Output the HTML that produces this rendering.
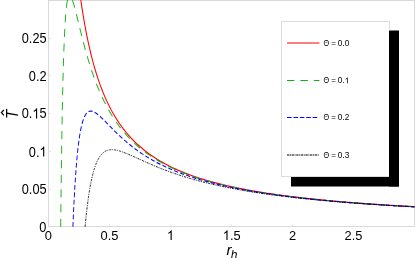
<!DOCTYPE html>
<html><head><meta charset="utf-8"><style>
html,body{margin:0;padding:0;background:#fff;}
body{width:415px;height:258px;overflow:hidden;position:relative;font-family:"Liberation Sans",sans-serif;}
svg{position:absolute;left:0;top:0;will-change:transform;}
text{font-family:"Liberation Sans",sans-serif;fill:#000;}
</style></head><body>
<svg width="415" height="258" viewBox="0 0 415 258">
<defs><clipPath id="c"><rect x="48" y="0" width="367" height="227.4"/></clipPath></defs>
<rect x="0" y="0" width="415" height="258" fill="#fff"/>
<!-- axes frame -->
<g stroke="#d9d9d9" stroke-width="1" fill="none" shape-rendering="crispEdges">
<line x1="48.5" y1="0" x2="48.5" y2="227"/>
<line x1="48" y1="226.5" x2="415" y2="226.5"/>
<line x1="48" y1="0.5" x2="415" y2="0.5"/>
<line x1="414.5" y1="0" x2="414.5" y2="227"/>
</g>
<g stroke="#e4e4e4" stroke-width="1" fill="none" shape-rendering="crispEdges">
<line x1="109.5" y1="224" x2="109.5" y2="226" stroke="#ececec"/>
<line x1="170.5" y1="224" x2="170.5" y2="226" stroke="#ececec"/>
<line x1="231.5" y1="224" x2="231.5" y2="226" stroke="#ececec"/>
<line x1="292.5" y1="224" x2="292.5" y2="226" stroke="#ececec"/>
<line x1="353.5" y1="224" x2="353.5" y2="226" stroke="#ececec"/>
<line x1="49" y1="189.5" x2="51" y2="189.5"/>
<line x1="49" y1="151.5" x2="51" y2="151.5"/>
<line x1="49" y1="113.5" x2="51" y2="113.5"/>
<line x1="49" y1="75.5" x2="51" y2="75.5"/>
<line x1="49" y1="38.5" x2="51" y2="38.5"/>
</g>
<g clip-path="url(#c)" fill="none" stroke-linejoin="round">
<g transform="scale(1,1.175)"><path d="M77.06,-25.46 L77.18,-24.53 L77.30,-23.60 L77.43,-22.69 L77.55,-21.78 L77.67,-20.88 L77.79,-19.99 L77.91,-19.10 L78.04,-18.22 L78.16,-17.35 L78.28,-16.49 L78.40,-15.63 L78.53,-14.78 L78.65,-13.94 L78.77,-13.10 L78.89,-12.27 L79.02,-11.45 L79.14,-10.63 L79.26,-9.82 L79.38,-9.02 L79.50,-8.22 L79.63,-7.43 L79.75,-6.65 L79.87,-5.87 L79.99,-5.10 L80.12,-4.33 L80.24,-3.57 L80.36,-2.82 L80.48,-2.07 L80.61,-1.33 L80.73,-0.59 L80.85,0.14 L80.97,0.87 L81.09,1.59 L81.22,2.31 L81.34,3.02 L81.46,3.72 L81.58,4.42 L81.71,5.12 L81.83,5.80 L81.95,6.49 L82.07,7.17 L82.20,7.84 L82.32,8.51 L82.44,9.18 L82.56,9.84 L82.68,10.49 L82.81,11.14 L82.93,11.79 L83.05,12.43 L83.17,13.07 L83.30,13.70 L83.42,14.33 L83.54,14.95 L83.66,15.57 L83.79,16.19 L83.91,16.80 L84.03,17.40 L84.15,18.00 L84.27,18.60 L84.40,19.20 L84.52,19.79 L84.64,20.37 L84.76,20.96 L84.89,21.53 L85.01,22.11 L85.13,22.68 L85.25,23.25 L85.38,23.81 L85.50,24.37 L85.62,24.92 L85.74,25.47 L85.86,26.02 L85.99,26.57 L86.11,27.11 L86.23,27.65 L86.35,28.18 L86.48,28.71 L86.60,29.24 L86.72,29.76 L86.84,30.28 L86.97,30.80 L87.09,31.31 L87.21,31.83 L87.33,32.33 L87.45,32.84 L87.58,33.34 L87.70,33.84 L87.82,34.33 L87.94,34.82 L88.07,35.31 L88.19,35.80 L88.31,36.28 L88.43,36.76 L88.56,37.24 L88.68,37.71 L88.80,38.18 L88.92,38.65 L89.04,39.12 L89.17,39.58 L89.29,40.04 L89.41,40.50 L89.53,40.95 L89.66,41.40 L89.78,41.85 L89.90,42.30 L90.02,42.74 L90.15,43.18 L90.27,43.62 L90.39,44.06 L90.51,44.49 L90.63,44.92 L90.76,45.35 L90.88,45.78 L91.00,46.20 L91.12,46.62 L91.25,47.04 L91.37,47.46 L91.49,47.87 L91.61,48.28 L91.74,48.69 L91.86,49.10 L91.98,49.50 L92.10,49.91 L92.22,50.31 L92.35,50.71 L92.47,51.10 L92.59,51.49 L92.71,51.89 L92.84,52.28 L92.96,52.66 L93.08,53.05 L93.20,53.43 L93.33,53.81 L93.45,54.19 L93.57,54.57 L93.69,54.94 L93.81,55.31 L93.94,55.68 L94.06,56.05 L94.18,56.42 L94.30,56.78 L94.43,57.15 L94.55,57.51 L94.67,57.87 L94.79,58.22 L94.92,58.58 L95.04,58.93 L95.16,59.28 L95.28,59.63 L95.40,59.98 L95.53,60.33 L95.65,60.67 L95.77,61.01 L95.89,61.35 L96.02,61.69 L96.14,62.03 L96.26,62.36 L96.38,62.70 L96.51,63.03 L96.63,63.36 L96.75,63.69 L96.87,64.02 L96.99,64.34 L97.12,64.66 L97.24,64.99 L97.36,65.31 L97.48,65.63 L97.61,65.94 L97.73,66.26 L97.85,66.57 L97.97,66.88 L98.09,67.20 L98.22,67.51 L98.34,67.81 L98.46,68.12 L98.58,68.42 L98.71,68.73 L98.83,69.03 L98.95,69.33 L99.07,69.63 L99.20,69.93 L99.32,70.22 L99.44,70.52 L99.56,70.81 L99.68,71.10 L99.81,71.39 L99.93,71.68 L100.05,71.97 L100.17,72.26 L100.30,72.54 L100.42,72.83 L100.54,73.11 L100.66,73.39 L100.79,73.67 L100.91,73.95 L101.03,74.22 L101.15,74.50 L101.27,74.77 L101.40,75.05 L101.52,75.32 L101.64,75.59 L101.76,75.86 L101.89,76.13 L102.01,76.40 L102.13,76.66 L102.25,76.93 L102.38,77.19 L102.50,77.45 L102.62,77.71 L102.74,77.97 L102.86,78.23 L102.99,78.49 L103.11,78.75 L103.23,79.00 L103.35,79.26 L103.48,79.51 L103.60,79.76 L103.72,80.01 L103.84,80.26 L103.97,80.51 L104.09,80.76 L104.21,81.00 L104.33,81.25 L104.45,81.49 L104.58,81.74 L104.70,81.98 L104.82,82.22 L104.94,82.46 L105.07,82.70 L105.19,82.94 L105.31,83.17 L105.43,83.41 L105.56,83.64 L105.68,83.88 L105.80,84.11 L105.92,84.34 L106.04,84.57 L106.17,84.80 L106.29,85.03 L106.41,85.26 L106.53,85.49 L106.66,85.71 L106.78,85.94 L106.90,86.16 L107.02,86.39 L107.15,86.61 L107.27,86.83 L107.39,87.05 L107.51,87.27 L107.63,87.49 L107.76,87.71 L107.88,87.92 L108.00,88.14 L108.12,88.35 L108.25,88.57 L108.37,88.78 L108.49,88.99 L108.61,89.20 L108.74,89.42 L108.86,89.63 L108.98,89.83 L109.10,90.04 L109.22,90.25 L109.35,90.46 L109.47,90.66 L109.59,90.87 L109.71,91.07 L109.84,91.27 L109.96,91.48 L110.08,91.68 L110.20,91.88 L110.33,92.08 L110.45,92.28 L110.57,92.48 L110.69,92.67 L110.81,92.87 L110.94,93.07 L111.06,93.26 L111.18,93.46 L111.30,93.65 L111.43,93.84 L111.55,94.04 L111.67,94.23 L111.79,94.42 L111.92,94.61 L112.04,94.80 L112.16,94.99 L112.28,95.17 L112.40,95.36 L112.53,95.55 L112.65,95.73 L112.77,95.92 L112.89,96.10 L113.02,96.29 L113.14,96.47 L113.26,96.65 L113.38,96.83 L113.51,97.01 L113.63,97.19 L113.75,97.37 L113.87,97.55 L113.99,97.73 L114.12,97.91 L114.24,98.09 L114.36,98.26 L114.48,98.44 L114.61,98.61 L114.73,98.79 L114.85,98.96 L114.97,99.13 L115.10,99.31 L115.22,99.48 L115.34,99.65 L115.46,99.82 L115.58,99.99 L115.71,100.16 L115.83,100.33 L115.95,100.49 L116.07,100.66 L116.20,100.83 L116.32,101.00 L116.44,101.16 L116.56,101.33 L116.69,101.49 L116.81,101.65 L116.93,101.82 L117.05,101.98 L117.17,102.14 L117.30,102.30 L117.42,102.46 L117.54,102.62 L117.66,102.78 L117.79,102.94 L117.91,103.10 L118.03,103.26 L118.15,103.42 L118.28,103.57 L118.40,103.73 L118.52,103.89 L118.64,104.04 L118.76,104.20 L118.89,104.35 L119.01,104.51 L119.13,104.66 L119.25,104.81 L119.38,104.96 L119.50,105.11 L119.62,105.27 L119.74,105.42 L119.87,105.57 L119.99,105.72 L120.11,105.87 L120.23,106.01 L120.35,106.16 L120.48,106.31 L120.60,106.46 L120.72,106.60 L120.84,106.75 L120.97,106.89 L121.09,107.04 L121.21,107.18 L121.33,107.33 L121.46,107.47 L121.58,107.61 L121.70,107.76 L123.17,109.44 L124.64,111.05 L126.11,112.60 L127.59,114.10 L129.06,115.54 L130.53,116.93 L132.00,118.27 L133.47,119.56 L134.94,120.81 L136.41,122.02 L137.88,123.19 L139.36,124.32 L140.83,125.41 L142.30,126.47 L143.77,127.50 L145.24,128.50 L146.71,129.46 L148.18,130.40 L149.66,131.31 L151.13,132.19 L152.60,133.05 L154.07,133.89 L155.54,134.70 L157.01,135.49 L158.48,136.26 L159.96,137.01 L161.43,137.74 L162.90,138.45 L164.37,139.14 L165.84,139.82 L167.31,140.47 L168.78,141.12 L170.25,141.74 L171.73,142.35 L173.20,142.95 L174.67,143.54 L176.14,144.11 L177.61,144.66 L179.08,145.21 L180.55,145.74 L182.03,146.26 L183.50,146.77 L184.97,147.27 L186.44,147.75 L187.91,148.23 L189.38,148.70 L190.85,149.16 L192.33,149.61 L193.80,150.04 L195.27,150.47 L196.74,150.90 L198.21,151.31 L199.68,151.72 L201.15,152.11 L202.62,152.50 L204.10,152.89 L205.57,153.26 L207.04,153.63 L208.51,153.99 L209.98,154.35 L211.45,154.70 L212.92,155.04 L214.40,155.38 L215.87,155.71 L217.34,156.03 L218.81,156.35 L220.28,156.66 L221.75,156.97 L223.22,157.28 L224.69,157.57 L226.17,157.87 L227.64,158.16 L229.11,158.44 L230.58,158.72 L232.05,158.99 L233.52,159.26 L234.99,159.53 L236.47,159.79 L237.94,160.05 L239.41,160.30 L240.88,160.55 L242.35,160.80 L243.82,161.04 L245.29,161.28 L246.77,161.51 L248.24,161.75 L249.71,161.98 L251.18,162.20 L252.65,162.42 L254.12,162.64 L255.59,162.86 L257.06,163.07 L258.54,163.28 L260.01,163.48 L261.48,163.69 L262.95,163.89 L264.42,164.09 L265.89,164.28 L267.36,164.48 L268.84,164.67 L270.31,164.85 L271.78,165.04 L273.25,165.22 L274.72,165.40 L276.19,165.58 L277.66,165.76 L279.14,165.93 L280.61,166.10 L282.08,166.27 L283.55,166.44 L285.02,166.60 L286.49,166.77 L287.96,166.93 L289.43,167.09 L290.91,167.24 L292.38,167.40 L293.85,167.55 L295.32,167.70 L296.79,167.85 L298.26,168.00 L299.73,168.15 L301.21,168.29 L302.68,168.44 L304.15,168.58 L305.62,168.72 L307.09,168.85 L308.56,168.99 L310.03,169.13 L311.51,169.26 L312.98,169.39 L314.45,169.52 L315.92,169.65 L317.39,169.78 L318.86,169.91 L320.33,170.03 L321.80,170.15 L323.28,170.28 L324.75,170.40 L326.22,170.52 L327.69,170.63 L329.16,170.75 L330.63,170.87 L332.10,170.98 L333.58,171.10 L335.05,171.21 L336.52,171.32 L337.99,171.43 L339.46,171.54 L340.93,171.65 L342.40,171.75 L343.87,171.86 L345.35,171.96 L346.82,172.07 L348.29,172.17 L349.76,172.27 L351.23,172.37 L352.70,172.47 L354.17,172.57 L355.65,172.67 L357.12,172.77 L358.59,172.86 L360.06,172.96 L361.53,173.05 L363.00,173.14 L364.47,173.24 L365.95,173.33 L367.42,173.42 L368.89,173.51 L370.36,173.60 L371.83,173.69 L373.30,173.77 L374.77,173.86 L376.24,173.95 L377.72,174.03 L379.19,174.11 L380.66,174.20 L382.13,174.28 L383.60,174.36 L385.07,174.44 L386.54,174.52 L388.02,174.60 L389.49,174.68 L390.96,174.76 L392.43,174.84 L393.90,174.92 L395.37,174.99 L396.84,175.07 L398.32,175.15 L399.79,175.22 L401.26,175.29 L402.73,175.37 L404.20,175.44 L405.67,175.51 L407.14,175.58 L408.61,175.66 L410.09,175.73 L411.56,175.80 L413.03,175.87 L414.50,175.93" stroke="#ff0000" stroke-width="1.05"/></g>
<g transform="scale(1,1.09)" stroke="#18b418" stroke-dasharray="7.35 6.05" stroke-width="0.98">
<path d="M60.70,208.03 L60.73,205.34 L60.76,202.69 L60.79,200.08 L60.82,197.49 L60.85,194.94 L60.88,192.41 L60.91,189.92 L60.94,187.46 L60.97,185.02 L61.00,182.62 L61.03,180.24 L61.06,177.90 L61.09,175.58 L61.12,173.29 L61.15,171.03 L61.18,168.79 L61.21,166.58 L61.24,164.40 L61.27,162.24 L61.30,160.11 L61.33,158.01 L61.36,155.93 L61.39,153.87 L61.42,151.84 L61.45,149.84 L61.48,147.86 L61.51,145.90 L61.54,143.96 L61.57,142.05 L61.60,140.16 L61.63,138.30 L61.66,136.45 L61.69,134.63 L61.72,132.83 L61.75,131.05 L61.78,129.29 L61.81,127.55 L61.84,125.83 L61.86,124.14 L61.89,122.46 L61.92,120.80 L61.95,119.17 L61.98,117.55 L62.01,115.95 L62.04,114.37 L62.07,112.81 L62.10,111.27 L62.13,109.74 L62.16,108.24 L62.19,106.75 L62.22,105.28 L62.25,103.82 L62.28,102.39 L62.31,100.97 L62.34,99.57 L62.37,98.18 L62.40,96.81 L62.43,95.46 L62.46,94.12 L62.49,92.80 L62.52,91.49 L62.55,90.20 L62.58,88.92 L62.61,87.66 L62.64,86.42 L62.67,85.19 L62.70,83.97 L62.73,82.77 L62.76,81.58 L62.79,80.41 L62.82,79.25 L62.85,78.10 L62.88,76.97 L62.91,75.85 L62.94,74.74 L62.97,73.65 L63.00,72.57 L63.03,71.50 L63.06,70.45 L63.09,69.41 L63.12,68.38 L63.15,67.36 L63.18,66.35 L63.21,65.36 L63.24,64.38 L63.27,63.41 L63.30,62.45 L63.33,61.50 L63.36,60.57 L63.39,59.64 L63.42,58.73 L63.45,57.83 L63.48,56.93 L63.51,56.05 L63.54,55.18 L63.57,54.32 L63.60,53.47 L63.63,52.63 L63.66,51.80 L63.69,50.98 L63.72,50.17 L63.75,49.37 L63.78,48.58 L63.81,47.80 L63.84,47.03 L63.87,46.26 L63.90,45.51 L63.93,44.76 L63.96,44.03 L63.99,43.30 L64.02,42.59 L64.05,41.88 L64.08,41.18 L64.11,40.48 L64.14,39.80 L64.16,39.13 L64.19,38.46 L64.22,37.80 L64.25,37.15 L64.28,36.51 L64.31,35.87 L64.34,35.25 L64.37,34.63 L64.40,34.01 L64.43,33.41 L64.46,32.81 L64.49,32.22 L64.52,31.64 L64.55,31.07 L64.58,30.50 L64.61,29.94 L64.64,29.39 L64.67,28.84 L64.70,28.30 L64.73,27.77 L64.76,27.24 L64.79,26.72 L64.82,26.21 L64.85,25.70 L64.88,25.20 L64.91,24.71 L64.94,24.22 L64.97,23.74 L65.00,23.26 L65.03,22.80 L65.06,22.33 L65.09,21.88 L65.12,21.42 L65.15,20.98 L65.18,20.54 L65.21,20.11 L65.24,19.68 L65.27,19.26 L65.30,18.84 L65.33,18.43 L65.36,18.02 L65.39,17.62 L65.42,17.22 L65.45,16.83 L65.48,16.45 L65.51,16.07 L65.54,15.69 L65.57,15.33 L65.60,14.96 L65.63,14.60 L65.66,14.25 L65.69,13.90 L65.72,13.55 L65.75,13.21 L65.78,12.87 L65.81,12.54 L65.84,12.22 L65.87,11.89 L65.90,11.58 L65.93,11.26 L65.96,10.95 L65.99,10.65 L66.02,10.35 L66.05,10.05 L66.08,9.76 L66.11,9.47 L66.14,9.19 L66.17,8.91 L66.20,8.64 L66.23,8.37 L66.26,8.10 L66.29,7.84 L66.32,7.58 L66.35,7.32 L66.38,7.07 L66.41,6.82 L66.43,6.58 L66.46,6.34 L66.49,6.10 L66.52,5.87 L66.55,5.64 L66.58,5.41 L66.61,5.19 L66.64,4.97 L66.67,4.75 L66.70,4.54 L66.73,4.33 L66.76,4.13 L66.79,3.92 L66.82,3.72 L66.85,3.53 L66.88,3.34 L66.91,3.15 L66.94,2.96 L66.97,2.78 L67.00,2.60 L67.03,2.42 L67.06,2.25 L67.09,2.07 L67.12,1.91 L67.15,1.74 L67.18,1.58 L67.21,1.42 L67.24,1.26 L67.27,1.11 L67.30,0.96 L67.33,0.81 L67.36,0.66 L67.39,0.52 L67.42,0.38 L67.45,0.24 L67.48,0.11 L67.51,-0.02 L67.54,-0.15 L67.57,-0.28 L67.60,-0.40 L67.63,-0.53 L67.66,-0.65 L67.69,-0.76 L67.72,-0.88 L67.75,-0.99 L67.78,-1.10 L67.81,-1.21 L67.84,-1.31 L67.87,-1.42 L67.90,-1.52 L67.93,-1.61 L67.96,-1.71 L67.99,-1.81 L68.02,-1.90 L68.05,-1.99 L68.08,-2.07 L68.11,-2.16 L68.14,-2.24 L68.17,-2.32 L68.20,-2.40 L68.23,-2.48 L68.26,-2.56 L68.29,-2.63 L68.32,-2.70 L68.35,-2.77 L68.38,-2.84 L68.41,-2.90 L68.44,-2.96 L68.47,-3.03 L68.50,-3.09 L68.53,-3.14 L68.56,-3.20 L68.59,-3.25 L68.62,-3.31 L68.65,-3.36 L68.68,-3.40 L68.71,-3.45 L68.73,-3.50 L68.76,-3.54 L68.79,-3.58 L68.82,-3.62 L68.85,-3.66 L68.88,-3.70 L68.91,-3.73 L68.94,-3.77 L68.97,-3.80 L69.00,-3.83 L69.03,-3.86 L69.06,-3.89 L69.09,-3.91 L69.12,-3.94 L69.15,-3.96 L69.18,-3.98 L69.21,-4.00 L69.24,-4.02 L69.27,-4.03 L69.30,-4.05 L69.33,-4.06 L69.36,-4.08 L69.39,-4.09 L69.42,-4.10 L69.45,-4.11 L69.48,-4.11 L69.51,-4.12 L69.54,-4.12 L69.57,-4.13 L69.60,-4.13 L69.63,-4.13"/>
<path d="M69.63,-4.13 L69.76,-4.12 L69.89,-4.08 L70.02,-4.03 L70.15,-3.95 L70.28,-3.85 L70.41,-3.73 L70.54,-3.59 L70.68,-3.44 L70.81,-3.26 L70.94,-3.07 L71.07,-2.87 L71.20,-2.65 L71.33,-2.42 L71.46,-2.17 L71.59,-1.91 L71.72,-1.63 L71.85,-1.35 L71.98,-1.05 L72.11,-0.74 L72.24,-0.42 L72.37,-0.10 L72.50,0.24 L72.63,0.59 L72.76,0.94 L72.89,1.31 L73.02,1.68 L73.15,2.06 L73.28,2.45 L73.42,2.84 L73.55,3.24 L73.68,3.65 L73.81,4.06 L73.94,4.48 L74.07,4.90 L74.20,5.33 L74.33,5.76 L74.46,6.20 L74.59,6.64 L74.72,7.08 L74.85,7.53 L74.98,7.99 L75.11,8.44 L75.24,8.90 L75.37,9.36 L75.50,9.83 L75.63,10.30 L75.76,10.77 L75.89,11.24 L76.03,11.71 L76.16,12.19 L76.29,12.67 L76.42,13.15 L76.55,13.63 L76.68,14.11 L76.81,14.60 L76.94,15.08 L77.07,15.57 L77.20,16.06 L77.33,16.55 L77.46,17.04 L77.59,17.52 L77.72,18.01 L77.85,18.51 L77.98,19.00 L78.11,19.49 L78.24,19.98 L78.37,20.47 L78.50,20.96 L78.64,21.45 L78.77,21.94 L78.90,22.43 L79.03,22.92 L79.16,23.42 L79.29,23.91 L79.42,24.39 L79.55,24.88 L79.68,25.37 L79.81,25.86 L79.94,26.35 L80.07,26.83 L80.20,27.32 L80.33,27.80 L80.46,28.29 L80.59,28.77 L80.72,29.25 L80.85,29.73 L80.98,30.21 L81.11,30.69 L81.25,31.17 L81.38,31.65 L81.51,32.12 L81.64,32.60 L81.77,33.07 L81.90,33.55 L82.03,34.02 L82.16,34.49 L82.29,34.96 L82.42,35.42 L82.55,35.89 L82.68,36.35 L82.81,36.82 L82.94,37.28 L83.07,37.74 L83.20,38.20 L83.33,38.66 L83.46,39.11 L83.59,39.57 L83.72,40.02 L83.86,40.47 L83.99,40.92 L84.12,41.37 L84.25,41.82 L84.38,42.27 L84.51,42.71 L84.64,43.15 L84.77,43.60 L84.90,44.04 L85.03,44.47 L85.16,44.91 L85.29,45.35 L85.42,45.78 L85.55,46.21 L85.68,46.64 L85.81,47.07 L85.94,47.50 L86.07,47.92 L86.20,48.35 L86.33,48.77 L86.47,49.19 L86.60,49.61 L86.73,50.03 L86.86,50.45 L86.99,50.86 L87.12,51.27 L87.25,51.68 L87.38,52.09 L87.51,52.50 L87.64,52.91 L87.77,53.31 L87.90,53.72 L88.03,54.12 L88.16,54.52 L88.29,54.92 L88.42,55.32 L88.55,55.71 L88.68,56.11 L88.81,56.50 L88.94,56.89 L89.08,57.28 L89.21,57.67 L89.34,58.05 L89.47,58.44 L89.60,58.82 L89.73,59.20 L89.86,59.58 L89.99,59.96 L90.12,60.34 L90.25,60.71 L90.38,61.08 L90.51,61.46 L90.64,61.83 L90.77,62.20 L90.90,62.56 L91.03,62.93 L91.16,63.30 L91.29,63.66 L91.42,64.02 L91.55,64.38 L91.69,64.74 L91.82,65.10 L91.95,65.45 L92.08,65.81 L92.21,66.16 L92.34,66.51 L92.47,66.86 L92.60,67.21 L92.73,67.55 L92.86,67.90 L92.99,68.24 L93.12,68.59 L93.25,68.93 L93.38,69.27 L93.51,69.61 L93.64,69.94 L93.77,70.28 L93.90,70.61 L94.03,70.95 L94.16,71.28 L94.30,71.61 L94.43,71.94 L94.56,72.26 L94.69,72.59 L94.82,72.91 L94.95,73.24 L95.08,73.56 L95.21,73.88 L95.34,74.20 L95.47,74.52 L95.60,74.83 L95.73,75.15 L95.86,75.46 L95.99,75.78 L96.12,76.09 L96.25,76.40 L96.38,76.71 L96.51,77.01 L96.64,77.32 L96.77,77.62 L96.91,77.93 L97.04,78.23 L97.17,78.53 L97.30,78.83 L97.43,79.13 L97.56,79.43 L97.69,79.72 L97.82,80.02 L97.95,80.31 L98.08,80.61 L98.21,80.90 L98.34,81.19 L98.47,81.48 L98.60,81.77 L98.73,82.05 L98.86,82.34 L98.99,82.62 L99.12,82.91 L99.25,83.19 L99.38,83.47 L99.52,83.75 L99.65,84.03 L99.78,84.31 L99.91,84.58 L100.04,84.86 L100.17,85.13 L100.30,85.41 L100.43,85.68 L100.56,85.95 L100.69,86.22 L100.82,86.49 L100.95,86.75 L101.08,87.02 L101.21,87.29 L101.34,87.55 L101.47,87.82 L101.60,88.08 L101.73,88.34 L101.86,88.60 L101.99,88.86 L102.13,89.12 L102.26,89.37 L102.39,89.63 L102.52,89.89 L102.65,90.14 L102.78,90.39 L102.91,90.65 L103.04,90.90 L103.17,91.15 L103.30,91.40 L103.43,91.64 L103.56,91.89 L103.69,92.14 L103.82,92.38 L103.95,92.63 L104.08,92.87 L104.21,93.11 L104.34,93.36 L104.47,93.60 L104.60,93.84 L104.74,94.07 L104.87,94.31 L105.00,94.55 L105.13,94.79 L105.26,95.02 L105.39,95.25 L105.52,95.49 L105.65,95.72 L105.78,95.95 L105.91,96.18 L106.04,96.41 L106.17,96.64 L106.30,96.87 L106.43,97.10 L106.56,97.32 L106.69,97.55 L106.82,97.77 L106.95,98.00 L107.08,98.22 L107.21,98.44 L107.35,98.66 L107.48,98.88 L107.61,99.10 L107.74,99.32 L107.87,99.54 L108.00,99.76 L108.13,99.97 L108.26,100.19 L108.39,100.40 L108.52,100.62 L108.65,100.83 L108.78,101.04 L108.91,101.25 L109.04,101.46 L109.17,101.67 L109.30,101.88 L109.43,102.09 L109.56,102.30 L109.69,102.50 L109.82,102.71 L109.96,102.92 L110.09,103.12 L110.22,103.32 L110.35,103.53 L110.48,103.73 L110.61,103.93 L110.74,104.13 L110.87,104.33 L111.00,104.53 L111.13,104.73 L111.26,104.93 L111.39,105.12 L111.52,105.32 L111.65,105.52 L111.78,105.71 L111.91,105.91 L112.04,106.10 L112.17,106.29 L112.30,106.49 L112.43,106.68 L112.57,106.87 L112.70,107.06 L112.83,107.25 L112.96,107.44 L113.09,107.62 L113.22,107.81 L113.35,108.00 L113.48,108.19 L113.61,108.37 L113.74,108.56 L113.87,108.74 L114.00,108.92 L114.13,109.11 L114.26,109.29 L114.39,109.47 L114.52,109.65 L114.65,109.83 L114.78,110.01 L114.91,110.19 L115.04,110.37 L115.18,110.55 L115.31,110.72 L115.44,110.90 L115.57,111.08 L115.70,111.25 L115.83,111.43 L115.96,111.60 L116.09,111.78 L116.22,111.95 L116.35,112.12 L116.48,112.29 L116.61,112.46 L116.74,112.63 L116.87,112.80 L117.00,112.97 L117.13,113.14 L117.26,113.31 L117.39,113.48 L117.52,113.65 L117.65,113.81 L117.79,113.98 L117.92,114.14 L118.05,114.31 L118.18,114.47 L118.31,114.64 L118.44,114.80 L118.57,114.96 L118.70,115.13 L118.83,115.29 L118.96,115.45 L119.09,115.61 L119.22,115.77 L119.35,115.93 L119.48,116.09 L119.61,116.25 L119.74,116.40 L119.87,116.56 L120.00,116.72 L120.13,116.88 L120.26,117.03 L120.40,117.19 L120.53,117.34 L120.66,117.50 L120.79,117.65 L120.92,117.80 L121.05,117.96 L121.18,118.11 L121.31,118.26 L121.44,118.41 L121.57,118.56 L121.70,118.71 L123.17,120.37 L124.64,121.98 L126.11,123.53 L127.59,125.02 L129.06,126.46 L130.53,127.86 L132.00,129.21 L133.47,130.52 L134.94,131.78 L136.41,133.01 L137.88,134.20 L139.36,135.35 L140.83,136.46 L142.30,137.55 L143.77,138.60 L145.24,139.62 L146.71,140.61 L148.18,141.58 L149.66,142.52 L151.13,143.43 L152.60,144.32 L154.07,145.18 L155.54,146.02 L157.01,146.84 L158.48,147.64 L159.96,148.42 L161.43,149.17 L162.90,149.91 L164.37,150.63 L165.84,151.34 L167.31,152.03 L168.78,152.70 L170.25,153.35 L171.73,153.99 L173.20,154.62 L174.67,155.23 L176.14,155.82 L177.61,156.41 L179.08,156.98 L180.55,157.54 L182.03,158.09 L183.50,158.62 L184.97,159.14 L186.44,159.66 L187.91,160.16 L189.38,160.65 L190.85,161.14 L192.33,161.61 L193.80,162.07 L195.27,162.53 L196.74,162.97 L198.21,163.41 L199.68,163.84 L201.15,164.26 L202.62,164.67 L204.10,165.07 L205.57,165.47 L207.04,165.86 L208.51,166.25 L209.98,166.62 L211.45,166.99 L212.92,167.35 L214.40,167.71 L215.87,168.06 L217.34,168.41 L218.81,168.75 L220.28,169.08 L221.75,169.41 L223.22,169.73 L224.69,170.04 L226.17,170.36 L227.64,170.66 L229.11,170.96 L230.58,171.26 L232.05,171.55 L233.52,171.84 L234.99,172.12 L236.47,172.40 L237.94,172.68 L239.41,172.95 L240.88,173.21 L242.35,173.48 L243.82,173.73 L245.29,173.99 L246.77,174.24 L248.24,174.49 L249.71,174.73 L251.18,174.97 L252.65,175.21 L254.12,175.44 L255.59,175.67 L257.06,175.90 L258.54,176.12 L260.01,176.34 L261.48,176.56 L262.95,176.77 L264.42,176.98 L265.89,177.19 L267.36,177.40 L268.84,177.60 L270.31,177.80 L271.78,178.00 L273.25,178.20 L274.72,178.39 L276.19,178.58 L277.66,178.77 L279.14,178.95 L280.61,179.14 L282.08,179.32 L283.55,179.50 L285.02,179.67 L286.49,179.85 L287.96,180.02 L289.43,180.19 L290.91,180.36 L292.38,180.52 L293.85,180.69 L295.32,180.85 L296.79,181.01 L298.26,181.17 L299.73,181.32 L301.21,181.48 L302.68,181.63 L304.15,181.78 L305.62,181.93 L307.09,182.08 L308.56,182.23 L310.03,182.37 L311.51,182.51 L312.98,182.66 L314.45,182.80 L315.92,182.93 L317.39,183.07 L318.86,183.21 L320.33,183.34 L321.80,183.47 L323.28,183.60 L324.75,183.73 L326.22,183.86 L327.69,183.99 L329.16,184.11 L330.63,184.24 L332.10,184.36 L333.58,184.48 L335.05,184.60 L336.52,184.72 L337.99,184.84 L339.46,184.96 L340.93,185.07 L342.40,185.19 L343.87,185.30 L345.35,185.41 L346.82,185.52 L348.29,185.63 L349.76,185.74 L351.23,185.85 L352.70,185.96 L354.17,186.06 L355.65,186.17 L357.12,186.27 L358.59,186.37 L360.06,186.48 L361.53,186.58 L363.00,186.68 L364.47,186.78 L365.95,186.88 L367.42,186.97 L368.89,187.07 L370.36,187.16 L371.83,187.26 L373.30,187.35 L374.77,187.45 L376.24,187.54 L377.72,187.63 L379.19,187.72 L380.66,187.81 L382.13,187.90 L383.60,187.99 L385.07,188.07 L386.54,188.16 L388.02,188.25 L389.49,188.33 L390.96,188.42 L392.43,188.50 L393.90,188.58 L395.37,188.66 L396.84,188.75 L398.32,188.83 L399.79,188.91 L401.26,188.99 L402.73,189.07 L404.20,189.14 L405.67,189.22 L407.14,189.30 L408.61,189.38 L410.09,189.45 L411.56,189.53 L413.03,189.60 L414.50,189.67" stroke-dashoffset="-5.26"/></g>
<g transform="scale(1,1.175)">
<path d="M72.90,192.98 L73.02,190.45 L73.14,187.98 L73.27,185.57 L73.39,183.22 L73.51,180.93 L73.63,178.70 L73.76,176.52 L73.88,174.39 L74.00,172.32 L74.12,170.29 L74.25,168.32 L74.37,166.39 L74.49,164.51 L74.61,162.67 L74.73,160.88 L74.86,159.14 L74.98,157.43 L75.10,155.77 L75.22,154.15 L75.35,152.56 L75.47,151.02 L75.59,149.51 L75.71,148.04 L75.84,146.60 L75.96,145.20 L76.08,143.83 L76.20,142.49 L76.32,141.19 L76.45,139.92 L76.57,138.67 L76.69,137.46 L76.81,136.28 L76.94,135.12 L77.06,134.00 L77.18,132.90 L77.30,131.82 L77.43,130.78 L77.55,129.75 L77.67,128.76 L77.79,127.78 L77.91,126.83 L78.04,125.91 L78.16,125.00 L78.28,124.12 L78.40,123.26 L78.53,122.42 L78.65,121.60 L78.77,120.80 L78.89,120.01 L79.02,119.25 L79.14,118.51 L79.26,117.79 L79.38,117.08 L79.50,116.39 L79.63,115.72 L79.75,115.06 L79.87,114.42 L79.99,113.80 L80.12,113.19 L80.24,112.60 L80.36,112.02 L80.48,111.45 L80.61,110.90 L80.73,110.37 L80.85,109.85 L80.97,109.34 L81.09,108.84 L81.22,108.36 L81.34,107.89 L81.46,107.43 L81.58,106.99 L81.71,106.55 L81.83,106.13 L81.95,105.72 L82.07,105.31 L82.20,104.92 L82.32,104.54 L82.44,104.17 L82.56,103.81 L82.68,103.46 L82.81,103.12 L82.93,102.79 L83.05,102.47 L83.17,102.16 L83.30,101.86 L83.42,101.56 L83.54,101.27 L83.66,101.00 L83.79,100.72 L83.91,100.46 L84.03,100.21 L84.15,99.96 L84.27,99.72 L84.40,99.49 L84.52,99.26 L84.64,99.05 L84.76,98.83 L84.89,98.63 L85.01,98.43 L85.13,98.24 L85.25,98.06 L85.38,97.88 L85.50,97.70 L85.62,97.54 L85.74,97.38 L85.86,97.22 L85.99,97.07 L86.11,96.93 L86.23,96.79 L86.35,96.65 L86.48,96.52 L86.60,96.40 L86.72,96.28 L86.84,96.17 L86.97,96.06 L87.09,95.95 L87.21,95.85 L87.33,95.76 L87.45,95.67 L87.58,95.58 L87.70,95.50 L87.82,95.42 L87.94,95.35 L88.07,95.27 L88.19,95.21 L88.31,95.14 L88.43,95.09 L88.56,95.03 L88.68,94.98 L88.80,94.93 L88.92,94.88 L89.04,94.84 L89.17,94.80 L89.29,94.77 L89.41,94.74 L89.53,94.71 L89.66,94.68 L89.78,94.66 L89.90,94.64 L90.02,94.62 L90.15,94.61 L90.27,94.59 L90.39,94.59 L90.51,94.58 L90.63,94.58 L90.76,94.57 L90.88,94.57 L91.00,94.58 L91.12,94.58 L91.25,94.59 L91.37,94.60 L91.49,94.62 L91.61,94.63 L91.74,94.65 L91.86,94.67 L91.98,94.69 L92.10,94.71 L92.22,94.74 L92.35,94.76 L92.47,94.79 L92.59,94.82 L92.71,94.86 L92.84,94.89 L92.96,94.93 L93.08,94.97 L93.20,95.01 L93.33,95.05 L93.45,95.09 L93.57,95.13 L93.69,95.18 L93.81,95.23 L93.94,95.28 L94.06,95.33 L94.18,95.38 L94.30,95.43 L94.43,95.49 L94.55,95.54 L94.67,95.60 L94.79,95.66 L94.92,95.72 L95.04,95.78 L95.16,95.84 L95.28,95.91 L95.40,95.97 L95.53,96.04 L95.65,96.10 L95.77,96.17 L95.89,96.24 L96.02,96.31 L96.14,96.38 L96.26,96.45 L96.38,96.53 L96.51,96.60 L96.63,96.68 L96.75,96.75 L96.87,96.83 L96.99,96.91 L97.12,96.99 L97.24,97.06 L97.36,97.14 L97.48,97.23 L97.61,97.31 L97.73,97.39 L97.85,97.47 L97.97,97.56 L98.09,97.64 L98.22,97.73 L98.34,97.81 L98.46,97.90 L98.58,97.99 L98.71,98.07 L98.83,98.16 L98.95,98.25 L99.07,98.34 L99.20,98.43 L99.32,98.52 L99.44,98.61 L99.56,98.71 L99.68,98.80 L99.81,98.89 L99.93,98.99 L100.05,99.08 L100.17,99.17 L100.30,99.27 L100.42,99.36 L100.54,99.46 L100.66,99.56 L100.79,99.65 L100.91,99.75 L101.03,99.85 L101.15,99.94 L101.27,100.04 L101.40,100.14 L101.52,100.24 L101.64,100.34 L101.76,100.44 L101.89,100.54 L102.01,100.64 L102.13,100.74 L102.25,100.84 L102.38,100.94 L102.50,101.04 L102.62,101.14 L102.74,101.24 L102.86,101.35 L102.99,101.45 L103.11,101.55 L103.23,101.65 L103.35,101.76 L103.48,101.86 L103.60,101.96 L103.72,102.07 L103.84,102.17 L103.97,102.27 L104.09,102.38 L104.21,102.48 L104.33,102.59 L104.45,102.69 L104.58,102.80 L104.70,102.90 L104.82,103.01 L104.94,103.11 L105.07,103.22 L105.19,103.32 L105.31,103.43 L105.43,103.53 L105.56,103.64 L105.68,103.75 L105.80,103.85 L105.92,103.96 L106.04,104.06 L106.17,104.17 L106.29,104.28 L106.41,104.38 L106.53,104.49 L106.66,104.59 L106.78,104.70 L106.90,104.81 L107.02,104.91 L107.15,105.02 L107.27,105.13 L107.39,105.23 L107.51,105.34 L107.63,105.45 L107.76,105.55 L107.88,105.66 L108.00,105.77 L108.12,105.87 L108.25,105.98 L108.37,106.09 L108.49,106.20 L108.61,106.30 L108.74,106.41 L108.86,106.52 L108.98,106.62 L109.10,106.73 L109.22,106.84 L109.35,106.94 L109.47,107.05 L109.59,107.16 L109.71,107.26 L109.84,107.37 L109.96,107.48 L110.08,107.58 L110.20,107.69 L110.33,107.79 L110.45,107.90 L110.57,108.01 L110.69,108.11 L110.81,108.22 L110.94,108.33 L111.06,108.43 L111.18,108.54 L111.30,108.64 L111.43,108.75 L111.55,108.85 L111.67,108.96 L111.79,109.07 L111.92,109.17 L112.04,109.28 L112.16,109.38 L112.28,109.49 L112.40,109.59 L112.53,109.70 L112.65,109.80 L112.77,109.91 L112.89,110.01 L113.02,110.12 L113.14,110.22 L113.26,110.33 L113.38,110.43 L113.51,110.53 L113.63,110.64 L113.75,110.74 L113.87,110.85 L113.99,110.95 L114.12,111.05 L114.24,111.16 L114.36,111.26 L114.48,111.37 L114.61,111.47 L114.73,111.57 L114.85,111.67 L114.97,111.78 L115.10,111.88 L115.22,111.98 L115.34,112.09 L115.46,112.19 L115.58,112.29 L115.71,112.39 L115.83,112.49 L115.95,112.60 L116.07,112.70 L116.20,112.80 L116.32,112.90 L116.44,113.00 L116.56,113.10 L116.69,113.21 L116.81,113.31 L116.93,113.41 L117.05,113.51 L117.17,113.61 L117.30,113.71 L117.42,113.81 L117.54,113.91 L117.66,114.01 L117.79,114.11 L117.91,114.21 L118.03,114.31 L118.15,114.41 L118.28,114.51 L118.40,114.61 L118.52,114.71 L118.64,114.80 L118.76,114.90 L118.89,115.00 L119.01,115.10 L119.13,115.20 L119.25,115.30 L119.38,115.39 L119.50,115.49 L119.62,115.59 L119.74,115.69 L119.87,115.78 L119.99,115.88 L120.11,115.98 L120.23,116.08 L120.35,116.17 L120.48,116.27 L120.60,116.37 L120.72,116.46 L120.84,116.56 L120.97,116.65 L121.09,116.75 L121.21,116.85 L121.33,116.94 L121.46,117.04 L121.58,117.13 L121.70,117.23 L123.17,118.36 L124.64,119.46 L126.11,120.55 L127.59,121.61 L129.06,122.64 L130.53,123.66 L132.00,124.65 L133.47,125.62 L134.94,126.56 L136.41,127.49 L137.88,128.39 L139.36,129.27 L140.83,130.13 L142.30,130.97 L143.77,131.79 L145.24,132.60 L146.71,133.38 L148.18,134.15 L149.66,134.90 L151.13,135.63 L152.60,136.35 L154.07,137.04 L155.54,137.73 L157.01,138.40 L158.48,139.05 L159.96,139.69 L161.43,140.32 L162.90,140.93 L164.37,141.53 L165.84,142.11 L167.31,142.69 L168.78,143.25 L170.25,143.80 L171.73,144.34 L173.20,144.87 L174.67,145.38 L176.14,145.89 L177.61,146.39 L179.08,146.87 L180.55,147.35 L182.03,147.82 L183.50,148.28 L184.97,148.73 L186.44,149.17 L187.91,149.60 L189.38,150.03 L190.85,150.44 L192.33,150.85 L193.80,151.26 L195.27,151.65 L196.74,152.04 L198.21,152.42 L199.68,152.79 L201.15,153.16 L202.62,153.52 L204.10,153.87 L205.57,154.22 L207.04,154.56 L208.51,154.90 L209.98,155.23 L211.45,155.55 L212.92,155.87 L214.40,156.19 L215.87,156.50 L217.34,156.80 L218.81,157.10 L220.28,157.40 L221.75,157.69 L223.22,157.97 L224.69,158.25 L226.17,158.53 L227.64,158.80 L229.11,159.07 L230.58,159.33 L232.05,159.59 L233.52,159.85 L234.99,160.10 L236.47,160.35 L237.94,160.59 L239.41,160.84 L240.88,161.07 L242.35,161.31 L243.82,161.54 L245.29,161.77 L246.77,161.99 L248.24,162.21 L249.71,162.43 L251.18,162.65 L252.65,162.86 L254.12,163.07 L255.59,163.27 L257.06,163.48 L258.54,163.68 L260.01,163.88 L261.48,164.07 L262.95,164.27 L264.42,164.46 L265.89,164.64 L267.36,164.83 L268.84,165.01 L270.31,165.19 L271.78,165.37 L273.25,165.55 L274.72,165.72 L276.19,165.90 L277.66,166.07 L279.14,166.23 L280.61,166.40 L282.08,166.56 L283.55,166.72 L285.02,166.88 L286.49,167.04 L287.96,167.20 L289.43,167.35 L290.91,167.50 L292.38,167.66 L293.85,167.80 L295.32,167.95 L296.79,168.10 L298.26,168.24 L299.73,168.38 L301.21,168.52 L302.68,168.66 L304.15,168.80 L305.62,168.94 L307.09,169.07 L308.56,169.20 L310.03,169.33 L311.51,169.46 L312.98,169.59 L314.45,169.72 L315.92,169.85 L317.39,169.97 L318.86,170.09 L320.33,170.21 L321.80,170.34 L323.28,170.45 L324.75,170.57 L326.22,170.69 L327.69,170.81 L329.16,170.92 L330.63,171.03 L332.10,171.15 L333.58,171.26 L335.05,171.37 L336.52,171.48 L337.99,171.58 L339.46,171.69 L340.93,171.80 L342.40,171.90 L343.87,172.00 L345.35,172.11 L346.82,172.21 L348.29,172.31 L349.76,172.41 L351.23,172.51 L352.70,172.60 L354.17,172.70 L355.65,172.80 L357.12,172.89 L358.59,172.99 L360.06,173.08 L361.53,173.17 L363.00,173.26 L364.47,173.35 L365.95,173.44 L367.42,173.53 L368.89,173.62 L370.36,173.71 L371.83,173.80 L373.30,173.88 L374.77,173.97 L376.24,174.05 L377.72,174.13 L379.19,174.22 L380.66,174.30 L382.13,174.38 L383.60,174.46 L385.07,174.54 L386.54,174.62 L388.02,174.70 L389.49,174.78 L390.96,174.86 L392.43,174.93 L393.90,175.01 L395.37,175.08 L396.84,175.16 L398.32,175.23 L399.79,175.31 L401.26,175.38 L402.73,175.45 L404.20,175.52 L405.67,175.59 L407.14,175.67 L408.61,175.74 L410.09,175.80 L411.56,175.87 L413.03,175.94 L414.50,176.01" stroke="#0000ff" stroke-dasharray="4.1 2.2" stroke-width="0.95"/>
<path d="M85.10,192.98 L85.19,192.13 L85.28,191.29 L85.38,190.46 L85.47,189.65 L85.56,188.84 L85.65,188.04 L85.74,187.25 L85.83,186.47 L85.93,185.71 L86.02,184.95 L86.11,184.20 L86.20,183.46 L86.29,182.73 L86.38,182.00 L86.48,181.29 L86.57,180.59 L86.66,179.89 L86.75,179.20 L86.84,178.52 L86.93,177.85 L87.03,177.19 L87.12,176.54 L87.21,175.89 L87.30,175.25 L87.39,174.62 L87.48,174.00 L87.58,173.38 L87.67,172.78 L87.76,172.18 L87.85,171.58 L87.94,171.00 L88.04,170.42 L88.13,169.85 L88.22,169.28 L88.31,168.72 L88.40,168.17 L88.49,167.63 L88.59,167.09 L88.68,166.56 L88.77,166.03 L88.86,165.52 L88.95,165.00 L89.04,164.50 L89.14,164.00 L89.23,163.50 L89.32,163.02 L89.41,162.53 L89.50,162.06 L89.59,161.59 L89.69,161.12 L89.78,160.66 L89.87,160.21 L89.96,159.76 L90.05,159.32 L90.15,158.88 L90.24,158.45 L90.33,158.02 L90.42,157.60 L90.51,157.19 L90.60,156.78 L90.70,156.37 L90.79,155.97 L90.88,155.57 L90.97,155.18 L91.06,154.79 L91.15,154.41 L91.25,154.03 L91.34,153.66 L91.43,153.29 L91.52,152.92 L91.61,152.56 L91.70,152.21 L91.80,151.86 L91.89,151.51 L91.98,151.17 L92.07,150.83 L92.16,150.49 L92.25,150.16 L92.35,149.84 L92.44,149.51 L92.53,149.20 L92.62,148.88 L92.71,148.57 L92.81,148.26 L92.90,147.96 L92.99,147.66 L93.08,147.36 L93.17,147.07 L93.26,146.78 L93.36,146.50 L93.45,146.22 L93.54,145.94 L93.63,145.66 L93.72,145.39 L93.81,145.12 L93.91,144.86 L94.00,144.59 L94.09,144.34 L94.18,144.08 L94.27,143.83 L94.36,143.58 L94.46,143.33 L94.55,143.09 L94.64,142.85 L94.73,142.61 L94.82,142.38 L94.92,142.15 L95.01,141.92 L95.10,141.69 L95.19,141.47 L95.28,141.25 L95.37,141.03 L95.47,140.82 L95.56,140.61 L95.65,140.40 L95.74,140.19 L95.83,139.99 L95.92,139.79 L96.02,139.59 L96.11,139.39 L96.20,139.20 L96.29,139.00 L96.38,138.82 L96.47,138.63 L96.57,138.44 L96.66,138.26 L96.75,138.08 L96.84,137.91 L96.93,137.73 L97.02,137.56 L97.12,137.39 L97.21,137.22 L97.30,137.05 L97.39,136.89 L97.48,136.73 L97.58,136.57 L97.67,136.41 L97.76,136.25 L97.85,136.10 L97.94,135.95 L98.03,135.80 L98.13,135.65 L98.22,135.50 L98.31,135.36 L98.40,135.22 L98.49,135.08 L98.58,134.94 L98.68,134.80 L98.77,134.67 L98.86,134.54 L98.95,134.40 L99.04,134.28 L99.13,134.15 L99.23,134.02 L99.32,133.90 L99.41,133.78 L99.50,133.65 L99.59,133.54 L99.68,133.42 L99.78,133.30 L99.87,133.19 L99.96,133.08 L100.05,132.96 L100.14,132.86 L100.24,132.75 L100.33,132.64 L100.42,132.54 L100.51,132.43 L100.60,132.33 L100.69,132.23 L100.79,132.13 L100.88,132.03 L100.97,131.94 L101.06,131.84 L101.15,131.75 L101.24,131.66 L101.34,131.57 L101.43,131.48 L101.52,131.39 L101.61,131.30 L101.70,131.22 L101.79,131.13 L101.89,131.05 L101.98,130.97 L102.07,130.89 L102.16,130.81 L102.25,130.73 L102.35,130.65 L102.44,130.58 L102.53,130.50 L102.62,130.43 L102.71,130.36 L102.80,130.29 L102.90,130.22 L102.99,130.15 L103.08,130.08 L103.17,130.01 L103.26,129.95 L103.35,129.88 L103.45,129.82 L103.54,129.76 L103.63,129.70 L103.72,129.64 L103.81,129.58 L103.90,129.52 L104.00,129.46 L104.09,129.41 L104.18,129.35 L104.27,129.30 L104.36,129.24 L104.45,129.19 L104.55,129.14 L104.64,129.09 L104.73,129.04 L104.82,128.99 L104.91,128.94 L105.01,128.90 L105.10,128.85 L105.19,128.81 L105.28,128.76 L105.37,128.72 L105.46,128.68 L105.56,128.63 L105.65,128.59 L105.74,128.55 L105.83,128.51 L105.92,128.48 L106.01,128.44 L106.11,128.40 L106.20,128.37 L106.29,128.33 L106.38,128.30 L106.47,128.26 L106.56,128.23 L106.66,128.20 L106.75,128.17 L106.84,128.13 L106.93,128.10 L107.02,128.08 L107.12,128.05 L107.21,128.02 L107.30,127.99 L107.39,127.97 L107.48,127.94 L107.57,127.91 L107.67,127.89 L107.76,127.87 L107.85,127.84 L107.94,127.82 L108.03,127.80 L108.12,127.78 L108.22,127.76 L108.31,127.74 L108.40,127.72 L108.49,127.70 L108.58,127.68 L108.67,127.66 L108.77,127.64 L108.86,127.63 L108.95,127.61 L109.04,127.60 L109.13,127.58 L109.22,127.57 L109.32,127.55 L109.41,127.54 L109.50,127.53 L109.59,127.52 L109.68,127.51 L109.78,127.49 L109.87,127.48 L109.96,127.47 L110.05,127.46 L110.14,127.46 L110.23,127.45 L110.33,127.44 L110.42,127.43 L110.51,127.42 L110.60,127.42 L110.69,127.41 L110.78,127.41 L110.88,127.40 L110.97,127.40 L111.06,127.39 L111.15,127.39 L111.24,127.39 L111.33,127.38 L111.43,127.38 L111.52,127.38 L111.61,127.38 L111.70,127.38 L111.79,127.38 L111.88,127.38 L111.98,127.38 L112.07,127.38 L112.16,127.38 L112.25,127.38 L112.34,127.38 L112.44,127.38 L112.53,127.38 L112.62,127.39 L112.71,127.39 L112.80,127.39 L112.89,127.40 L112.99,127.40 L113.08,127.41 L113.17,127.41 L113.26,127.42 L113.35,127.42 L113.44,127.43 L113.54,127.44 L113.63,127.44 L113.72,127.45 L113.81,127.46 L113.90,127.47 L113.99,127.48 L114.09,127.48 L114.18,127.49 L114.27,127.50 L114.36,127.51 L114.45,127.52 L114.55,127.53 L114.64,127.54 L114.73,127.55 L114.82,127.56 L114.91,127.58 L115.00,127.59 L115.10,127.60 L115.19,127.61 L115.28,127.62 L115.37,127.64 L115.46,127.65 L115.55,127.66 L115.65,127.68 L115.74,127.69 L115.83,127.71 L115.92,127.72 L116.01,127.73 L116.10,127.75 L116.20,127.76 L116.29,127.78 L116.38,127.80 L116.47,127.81 L116.56,127.83 L116.65,127.84 L116.75,127.86 L116.84,127.88 L116.93,127.90 L117.02,127.91 L117.11,127.93 L117.21,127.95 L117.30,127.97 L117.39,127.98 L117.48,128.00 L117.57,128.02 L117.66,128.04 L117.76,128.06 L117.85,128.08 L117.94,128.10 L118.03,128.12 L118.12,128.14 L118.21,128.16 L118.31,128.18 L118.40,128.20 L118.49,128.22 L118.58,128.24 L118.67,128.26 L118.76,128.29 L118.86,128.31 L118.95,128.33 L119.04,128.35 L119.13,128.37 L119.22,128.40 L119.32,128.42 L119.41,128.44 L119.50,128.46 L119.59,128.49 L119.68,128.51 L119.77,128.53 L119.87,128.56 L119.96,128.58 L120.05,128.61 L120.14,128.63 L120.23,128.65 L120.32,128.68 L120.42,128.70 L120.51,128.73 L120.60,128.75 L120.69,128.78 L120.78,128.80 L120.87,128.83 L120.97,128.85 L121.06,128.88 L121.15,128.91 L121.24,128.93 L121.33,128.96 L121.42,128.98 L121.52,129.01 L121.61,129.04 L121.70,129.06 L123.17,129.51 L124.64,129.98 L126.11,130.48 L127.59,130.99 L129.06,131.53 L130.53,132.07 L132.00,132.62 L133.47,133.18 L134.94,133.75 L136.41,134.32 L137.88,134.89 L139.36,135.46 L140.83,136.03 L142.30,136.60 L143.77,137.16 L145.24,137.73 L146.71,138.28 L148.18,138.84 L149.66,139.38 L151.13,139.92 L152.60,140.46 L154.07,140.99 L155.54,141.51 L157.01,142.03 L158.48,142.54 L159.96,143.04 L161.43,143.54 L162.90,144.03 L164.37,144.51 L165.84,144.99 L167.31,145.46 L168.78,145.92 L170.25,146.37 L171.73,146.82 L173.20,147.26 L174.67,147.70 L176.14,148.12 L177.61,148.55 L179.08,148.96 L180.55,149.37 L182.03,149.77 L183.50,150.17 L184.97,150.56 L186.44,150.94 L187.91,151.32 L189.38,151.69 L190.85,152.05 L192.33,152.41 L193.80,152.77 L195.27,153.12 L196.74,153.46 L198.21,153.80 L199.68,154.13 L201.15,154.46 L202.62,154.79 L204.10,155.10 L205.57,155.42 L207.04,155.73 L208.51,156.03 L209.98,156.33 L211.45,156.63 L212.92,156.92 L214.40,157.21 L215.87,157.49 L217.34,157.77 L218.81,158.04 L220.28,158.31 L221.75,158.58 L223.22,158.84 L224.69,159.10 L226.17,159.36 L227.64,159.61 L229.11,159.86 L230.58,160.10 L232.05,160.34 L233.52,160.58 L234.99,160.82 L236.47,161.05 L237.94,161.28 L239.41,161.50 L240.88,161.73 L242.35,161.95 L243.82,162.16 L245.29,162.38 L246.77,162.59 L248.24,162.80 L249.71,163.00 L251.18,163.20 L252.65,163.40 L254.12,163.60 L255.59,163.80 L257.06,163.99 L258.54,164.18 L260.01,164.37 L261.48,164.55 L262.95,164.74 L264.42,164.92 L265.89,165.10 L267.36,165.27 L268.84,165.45 L270.31,165.62 L271.78,165.79 L273.25,165.96 L274.72,166.12 L276.19,166.29 L277.66,166.45 L279.14,166.61 L280.61,166.77 L282.08,166.93 L283.55,167.08 L285.02,167.24 L286.49,167.39 L287.96,167.54 L289.43,167.68 L290.91,167.83 L292.38,167.98 L293.85,168.12 L295.32,168.26 L296.79,168.40 L298.26,168.54 L299.73,168.68 L301.21,168.81 L302.68,168.94 L304.15,169.08 L305.62,169.21 L307.09,169.34 L308.56,169.47 L310.03,169.59 L311.51,169.72 L312.98,169.84 L314.45,169.97 L315.92,170.09 L317.39,170.21 L318.86,170.33 L320.33,170.45 L321.80,170.56 L323.28,170.68 L324.75,170.79 L326.22,170.91 L327.69,171.02 L329.16,171.13 L330.63,171.24 L332.10,171.35 L333.58,171.46 L335.05,171.56 L336.52,171.67 L337.99,171.77 L339.46,171.88 L340.93,171.98 L342.40,172.08 L343.87,172.18 L345.35,172.28 L346.82,172.38 L348.29,172.48 L349.76,172.58 L351.23,172.67 L352.70,172.77 L354.17,172.86 L355.65,172.96 L357.12,173.05 L358.59,173.14 L360.06,173.23 L361.53,173.32 L363.00,173.41 L364.47,173.50 L365.95,173.59 L367.42,173.68 L368.89,173.76 L370.36,173.85 L371.83,173.93 L373.30,174.02 L374.77,174.10 L376.24,174.18 L377.72,174.26 L379.19,174.35 L380.66,174.43 L382.13,174.51 L383.60,174.58 L385.07,174.66 L386.54,174.74 L388.02,174.82 L389.49,174.89 L390.96,174.97 L392.43,175.05 L393.90,175.12 L395.37,175.19 L396.84,175.27 L398.32,175.34 L399.79,175.41 L401.26,175.49 L402.73,175.56 L404.20,175.63 L405.67,175.70 L407.14,175.77 L408.61,175.83 L410.09,175.90 L411.56,175.97 L413.03,176.04 L414.50,176.10" stroke="#000000" stroke-dasharray="2.0 0.95 0.9 1.05" stroke-width="0.85"/>
</g></g>
<!-- legend -->
<rect x="291" y="30.7" width="108" height="155.8" fill="#000"/>
<rect x="281.5" y="21.5" width="108" height="155" fill="#fff" stroke="#dcdcdc" stroke-width="1"/>
<rect x="389" y="30.7" width="10" height="155.8" fill="#000"/>
<g fill="none" stroke-width="1.2">
<line x1="287" y1="43" x2="319.4" y2="43" stroke="#ff0000"/>
<line x1="287" y1="80.5" x2="319.4" y2="80.5" stroke="#10b010" stroke-dasharray="7.4 6.0"/>
<line x1="287" y1="117.5" x2="317.2" y2="117.5" stroke="#0000ff" stroke-dasharray="4.6 1.8"/>
<line x1="287" y1="155" x2="319" y2="155" stroke="#000" stroke-dasharray="2.4 0.6 1.0 0.6"/>
</g>
<g font-size="8.4px" style="word-spacing:-0.9px">
<text transform="translate(323.4,45.90) scale(0.87,1)">&#920;</text><text x="331.15" y="45.90" font-size="8px">=</text>
<g transform="translate(337.85,45.9) scale(1,1)" font-size="8.2px"><text x="0.00" y="0">0.0</text></g>
<text transform="translate(323.4,83.30) scale(0.87,1)">&#920;</text><text x="331.15" y="83.30" font-size="8px">=</text>
<g transform="translate(337.85,83.3) scale(1,1)" font-size="8.2px"><text x="0.00" y="0">0.</text><path transform="translate(6.84,0) scale(0.00400,-0.00400)" d="M763 0H583V1147Q518 1085 412.5 1023Q307 961 223 930V1104Q374 1175 487 1276Q600 1377 647 1472H763Z" fill="#000"/></g>
<text transform="translate(323.4,120.30) scale(0.87,1)">&#920;</text><text x="331.15" y="120.30" font-size="8px">=</text>
<g transform="translate(337.85,120.3) scale(1,1)" font-size="8.2px"><text x="0.00" y="0">0.2</text></g>
<text transform="translate(323.4,157.90) scale(0.87,1)">&#920;</text><text x="331.15" y="157.90" font-size="8px">=</text>
<g transform="translate(337.85,157.9) scale(1,1)" font-size="8.2px"><text x="0.00" y="0">0.3</text></g>
</g>
<!-- tick labels -->
<g font-size="14.2px">
<g transform="translate(46.6,42.95) scale(0.9,1)" font-size="14.2px"><text x="-27.63" y="0">0.25</text></g>
<g transform="translate(46.6,80.7) scale(0.9,1)" font-size="14.2px"><text x="-19.74" y="0">0.2</text></g>
<g transform="translate(46.6,118.45) scale(0.9,1)" font-size="14.2px"><text x="-27.63" y="0">0.</text><path transform="translate(-15.79,0) scale(0.00693,-0.00693)" d="M763 0H583V1147Q518 1085 412.5 1023Q307 961 223 930V1104Q374 1175 487 1276Q600 1377 647 1472H763Z" fill="#000"/><text x="-7.90" y="0">5</text></g>
<g transform="translate(46.6,156.6) scale(0.9,1)" font-size="14.2px"><text x="-19.74" y="0">0.</text><path transform="translate(-7.90,0) scale(0.00693,-0.00693)" d="M763 0H583V1147Q518 1085 412.5 1023Q307 961 223 930V1104Q374 1175 487 1276Q600 1377 647 1472H763Z" fill="#000"/></g>
<g transform="translate(46.6,193.95) scale(0.9,1)" font-size="14.2px"><text x="-27.63" y="0">0.05</text></g>
<text transform="translate(46.3,231.6) scale(0.9,1)" text-anchor="end">0</text>
<g transform="translate(48.3,240.1) scale(0.94,1)" font-size="13.7px"><text x="-3.81" y="0">0</text></g>
<g transform="translate(109.5,240.1) scale(0.94,1)" font-size="13.7px"><text x="-9.52" y="0">0.5</text></g>
<g transform="translate(170.5,240.1) scale(0.94,1)" font-size="13.7px"><path transform="translate(-3.81,0) scale(0.00669,-0.00669)" d="M763 0H583V1147Q518 1085 412.5 1023Q307 961 223 930V1104Q374 1175 487 1276Q600 1377 647 1472H763Z" fill="#000"/></g>
<g transform="translate(231.7,240.1) scale(0.94,1)" font-size="13.7px"><path transform="translate(-9.52,0) scale(0.00669,-0.00669)" d="M763 0H583V1147Q518 1085 412.5 1023Q307 961 223 930V1104Q374 1175 487 1276Q600 1377 647 1472H763Z" fill="#000"/><text x="-1.90" y="0">.5</text></g>
<g transform="translate(292.5,240.1) scale(0.94,1)" font-size="13.7px"><text x="-3.81" y="0">2</text></g>
<g transform="translate(353.5,240.1) scale(0.94,1)" font-size="13.7px"><text x="-9.52" y="0">2.5</text></g>
</g>
<!-- axis labels -->
<text x="226.5" y="254.8" font-size="15.2px" font-style="italic">r<tspan font-size="12px" dy="3.8" dx="-0.9">h</tspan></text>
<g transform="translate(18.4,118.9) rotate(-90) scale(0.92,1)">
<text x="0" y="0" font-size="16.7px" font-style="italic">T</text>
<path d="M3.9,-14.5 L6.9,-17.0 L9.7,-14.5" fill="none" stroke="#000" stroke-width="1.25"/>
</g>
</svg>
</body></html>
